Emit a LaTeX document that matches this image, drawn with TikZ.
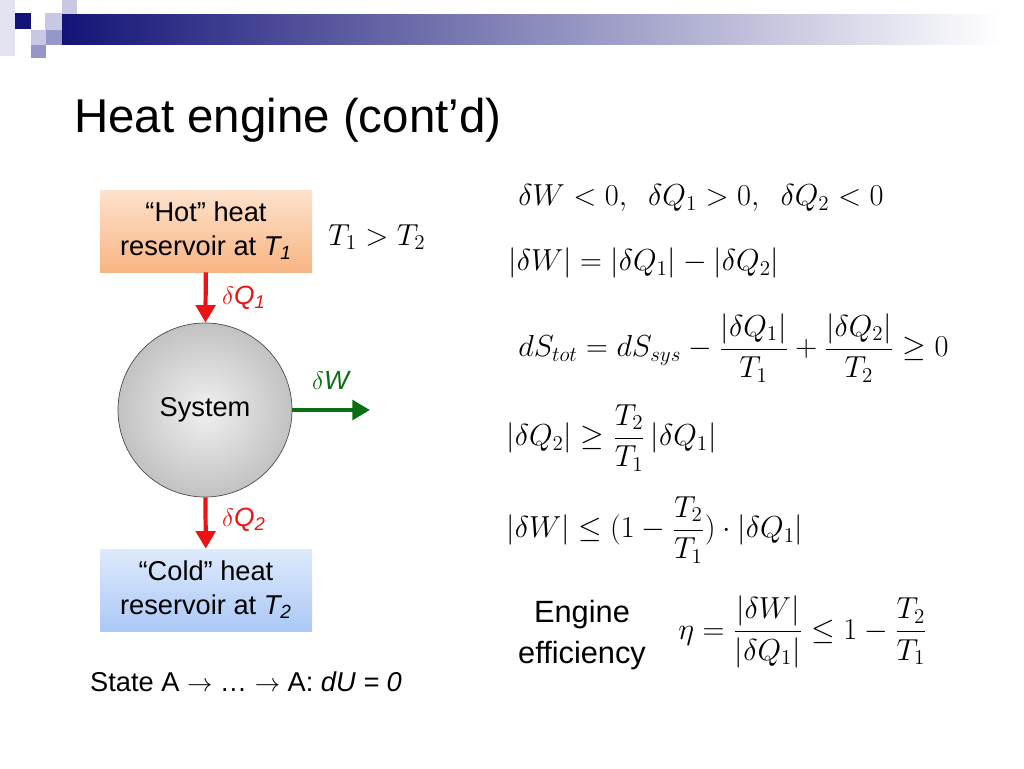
\documentclass[tikz,border=0pt]{standalone}
\usepackage{fontspec}
\setmainfont{Liberation Sans}
\usepackage{amsmath}
\usepackage{tikz}
\usetikzlibrary{positioning,arrows.meta}
\definecolor{navy}{RGB}{20,20,120}
\definecolor{lilac}{RGB}{200,200,228}
\definecolor{midlilac}{RGB}{150,150,200}
\definecolor{hottop}{RGB}{253,226,204}
\definecolor{hotbot}{RGB}{248,180,130}
\definecolor{coldtop}{RGB}{222,234,252}
\definecolor{coldbot}{RGB}{170,200,246}
\definecolor{heatred}{RGB}{235,20,20}
\definecolor{workgreen}{RGB}{10,110,20}
\tikzset{
  reservoir/.style={minimum width=212\px, minimum height=82\px, align=center,
    font=\fontsize{15.5}{19}\selectfont},
  flow/.style={line width=2.4pt, -{Triangle[width=11pt,length=10pt]}},
  flowlabel/.style={font=\fontsize{15}{18}\selectfont\itshape},
  eq/.style={anchor=west, font=\fontsize{16.5}{20}\selectfont, inner sep=0pt},
}
\newlength{\px}\setlength{\px}{0.02cm}
\begin{document}
\begin{tikzpicture}[x=0.02cm,y=-0.02cm]
  \useasboundingbox (0,0) rectangle (1024,768);
  % header decoration
  \fill[lilac!50] (0,0) rectangle (15,56);
  \fill[navy] (15,13) rectangle (31,29);
  \fill[lilac] (45,13) rectangle (62,30);
  \fill[lilac] (62,0) rectangle (77,15);
  \fill[midlilac] (62,15) rectangle (77,30);
  \fill[lilac] (31,30) rectangle (46,45);
  \fill[midlilac] (46,30) rectangle (62,45);
  \fill[midlilac] (31,45) rectangle (46,58);
  \shade[left color=navy, right color=white] (62,14) rectangle (1000,44);
  \node[anchor=base west, font=\fontsize{27}{32}\selectfont] (title) at (68,132) {Heat engine (cont’d)};

  % reservoirs and system
  \node[reservoir, top color=hottop, bottom color=hotbot] (hot) at (206,231)
    {“Hot” heat\\reservoir at \textit{T\textsubscript{1}}};
  \node[circle, draw=black!70, minimum size=174\px, inner color=black!6, outer color=black!24,
    font=\fontsize{15.5}{19}\selectfont] (sys) at (205,410) {System};
  \node[reservoir, top color=coldtop, bottom color=coldbot] (cold) at (206,590)
    {“Cold” heat\\reservoir at \textit{T\textsubscript{2}}};
  \coordinate (wout) at (370,410);

  \draw[flow, heatred] (hot) -- (sys);
  \draw[flow, heatred] (sys) -- (cold);
  \draw[flow, workgreen] (sys) -- (wout);
  \node[flowlabel, text=heatred, anchor=west] (q1) at (216,298) {$\delta$Q\textsubscript{1}};
  \node[flowlabel, text=heatred, anchor=west] (q2) at (216,520) {$\delta$Q\textsubscript{2}};
  \node[flowlabel, text=workgreen, anchor=west] (w) at (306,380) {$\delta$W};

  \node[anchor=west, font=\fontsize{15.5}{19}\selectfont] (cycle) at (84,682)
    {State A $\rightarrow$ \dots\ $\rightarrow$ A: \textit{dU = 0}};
  \node[eq] (tt) at (328,237) {$T_1 > T_2$};

  % relations
  \node[eq] (e1) at (518,198) {$\delta W<0,\ \ \delta Q_1>0,\ \ \delta Q_2<0$};
  \node[eq] (e2) at (508,263) {$\left|\delta W\right| = \left|\delta Q_1\right| - \left|\delta Q_2\right|$};
  \node[eq] (e3) at (518,348) {$dS_{tot} = dS_{sys} - \dfrac{\left|\delta Q_1\right|}{T_1} + \dfrac{\left|\delta Q_2\right|}{T_2} \geq 0$};
  \node[eq] (e4) at (506,438) {$\left|\delta Q_2\right| \geq \dfrac{T_2}{T_1}\left|\delta Q_1\right|$};
  \node[eq] (e5) at (506,530) {$\left|\delta W\right| \leq (1-\dfrac{T_2}{T_1})\cdot\left|\delta Q_1\right|$};
  \node[align=center, font=\fontsize{17.5}{23}\selectfont] (eff) at (582,635) {Engine\\efficiency};
  \node[eq] (e6) at (678,632) {$\eta = \dfrac{\left|\delta W\right|}{\left|\delta Q_1\right|} \leq 1 - \dfrac{T_2}{T_1}$};
\end{tikzpicture}
\end{document}
